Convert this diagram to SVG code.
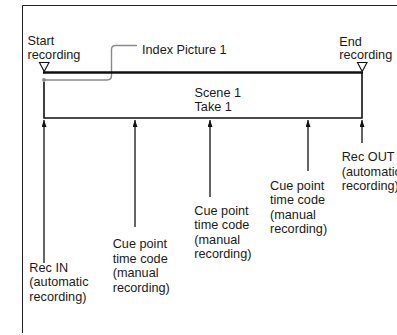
<svg xmlns="http://www.w3.org/2000/svg" width="397" height="335" viewBox="0 0 397 335">
<style>
text{font-family:"Liberation Sans",Arial,sans-serif;font-size:12.7px;fill:#1a1a1a}
.frame{fill:none;stroke:#222;stroke-width:1}
.box{fill:none;stroke:#111;stroke-width:1.6}
.shaft{stroke:#111;stroke-width:1.3;fill:none}
.tri{fill:#fff;stroke:#111;stroke-width:1.1}
.idx{fill:none;stroke:#8a8a8a;stroke-width:1.4}
</style>
<defs>
<marker id="ah" viewBox="0 0 7 5" refX="7" refY="2.5" markerWidth="7" markerHeight="5" markerUnits="userSpaceOnUse" orient="auto">
<path d="M0,0 L7,2.5 L0,5 Z" fill="#111"/>
</marker>
</defs>
<path class="frame" d="M22.5,333 V5.5 H397"/>
<g id="index">
<path class="idx" d="M44,80 H107 Q111.5,80 111.5,75.5 V49.5 Q111.5,45.5 115.5,45.5 H137"/>
<circle cx="44" cy="80" r="1.9" fill="#8a8a8a"/>
<text x="142" y="53.5">Index Picture 1</text>
</g>
<g id="take">
<path class="box" d="M44,82 V118 H362 V72.5"/>
<line x1="43" y1="72.5" x2="363" y2="72.5" stroke="#111" stroke-width="2.4"/>
<text x="194.5" y="96.5">Scene 1</text>
<text x="194.5" y="111">Take 1</text>
</g>
<g id="start">
<polygon class="tri" points="39.5,62.5 49,62.5 44.2,71.5"/>
<text x="27.5" y="45">Start</text>
<text x="27.5" y="59">recording</text>
</g>
<g id="end">
<polygon class="tri" points="357.5,62.5 367,62.5 362.2,71.5"/>
<text x="339.3" y="45.5">End</text>
<text x="339.3" y="59">recording</text>
</g>
<g id="connectors">
<line class="shaft" x1="44" y1="263" x2="44" y2="120" marker-end="url(#ah)"/>
<line class="shaft" x1="135" y1="227" x2="135" y2="120" marker-end="url(#ah)"/>
<line class="shaft" x1="210" y1="197" x2="210" y2="120" marker-end="url(#ah)"/>
<line class="shaft" x1="308" y1="171" x2="308" y2="120" marker-end="url(#ah)"/>
<line class="shaft" x1="362" y1="143" x2="362" y2="120" marker-end="url(#ah)"/>
</g>
<g id="recin">
<text x="29.3" y="271.5">Rec IN</text>
<text x="29.3" y="286">(automatic</text>
<text x="29.3" y="300.5">recording)</text>
</g>
<g id="cue1">
<text x="112.7" y="248.3">Cue point</text>
<text x="112.7" y="262.8">time code</text>
<text x="112.7" y="277.3">(manual</text>
<text x="112.7" y="291.8">recording)</text>
</g>
<g id="cue2">
<text x="194.3" y="214.5">Cue point</text>
<text x="194.3" y="229">time code</text>
<text x="194.3" y="243.5">(manual</text>
<text x="194.3" y="258">recording)</text>
</g>
<g id="cue3">
<text x="270" y="189.5">Cue point</text>
<text x="270" y="204">time code</text>
<text x="270" y="218.5">(manual</text>
<text x="270" y="233">recording)</text>
</g>
<g id="recout">
<text x="341.7" y="161">Rec OUT</text>
<text x="341.7" y="175.5">(automatic</text>
<text x="341.7" y="190">recording)</text>
</g>
</svg>
